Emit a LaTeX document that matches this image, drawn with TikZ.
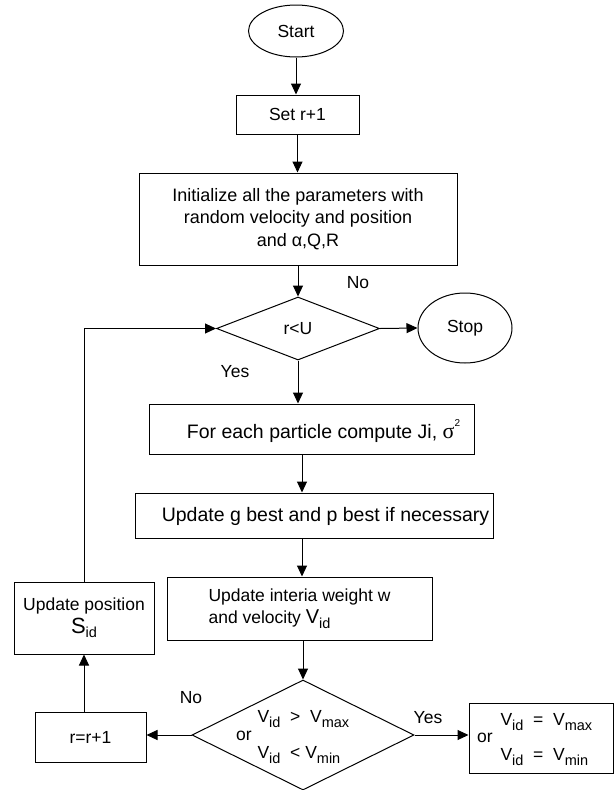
\documentclass[tikz,border=0pt]{standalone}
\usepackage{fontspec}
\setmainfont{Liberation Sans}
\newfontfamily\symfont{Liberation Serif}
\usetikzlibrary{shapes.geometric,arrows.meta}
\newcommand\lsub[1]{\raisebox{-0.45ex}{\fontsize{14.5}{14.5}\selectfont #1}}
\newcommand\bigV{{\fontsize{20}{20}\selectfont V}}
\newcommand\bigS{{\fontsize{22}{22}\selectfont S}}
\begin{document}
\begin{tikzpicture}[x=1pt,y=-1pt,
  font=\fontsize{17.5}{22.5}\selectfont,
  line width=1pt,
  box/.style={draw, rectangle, inner sep=0pt, align=center},
  term/.style={draw, ellipse, inner sep=0pt},
  decision/.style={draw, diamond, inner sep=0pt},
  arr/.style={-{Triangle[length=11pt,width=10pt]}},
  lbl/.style={inner sep=0pt}
]
\useasboundingbox (0,0) rectangle (615,790);

% nodes
\node[term, minimum width=95pt, minimum height=52pt] (start) at (296,31) {Start};
\node[box, minimum width=123pt, minimum height=39pt] (set) at (297.5,114.5) {Set r+1};
\node[box, minimum width=318pt, minimum height=92pt, font=\fontsize{18}{22.5}\selectfont] (init) at (298,219) {Initialize all the parameters with\\random velocity and position\\and α,Q,R};
\node[decision, minimum width=163pt, minimum height=63pt] (d1) at (298,328.5) {r<U};
\node[term, minimum width=94pt, minimum height=70pt] (stop) at (465,328) {Stop};
\node[box, minimum width=325pt, minimum height=50pt] (fe) at (311.5,429) {};
\node[lbl, font=\fontsize{19.5}{22}\selectfont] (fetxt) at (323.5,431) {For each particle compute Ji, {\symfont\fontsize{22}{22}\selectfont σ}\raisebox{1.1ex}{\fontsize{10}{10}\selectfont 2}};
\node[box, minimum width=358pt, minimum height=45pt] (gb) at (314,515.5) {};
\node[lbl, font=\fontsize{19.5}{22}\selectfont] (gbtxt) at (325.5,516) {Update g best and p best if necessary};
\node[box, minimum width=265pt, minimum height=63pt, align=left] (iw) at (299.5,608.5) {Update interia weight w\\and velocity \bigV\lsub{id}};
\node[decision, minimum width=222pt, minimum height=110pt] (d2) at (303,735) {};
\node[lbl] (d2or) at (244,736) {or};
\node[lbl, anchor=west] (d2a) at (257,719) {V\lsub{id}\ \ >\ \ V\lsub{max}};
\node[lbl, anchor=west] (d2b) at (257,755) {V\lsub{id}\ \ <\ V\lsub{min}};
\node[box, minimum width=144pt, minimum height=70pt] (res) at (541,738) {};
\node[lbl] (resor) at (485,738) {or};
\node[lbl, anchor=west] (resa) at (500,722) {V\lsub{id}\ \ =\ \ V\lsub{max}};
\node[lbl, anchor=west] (resb) at (500,757) {V\lsub{id}\ \ =\ \ V\lsub{min}};
\node[box, minimum width=111pt, minimum height=50pt] (rr) at (90.5,737) {r=r+1};
\node[box, minimum width=140pt, minimum height=72pt] (pos) at (84,618) {Update position\\\bigS\lsub{id}};

% labels
\node[lbl] (no1) at (358,283) {No};
\node[lbl] (yes1) at (235,372) {Yes};
\node[lbl] (no2) at (191,698) {No};
\node[lbl] (yes2) at (428,718) {Yes};

% connectors
\draw[arr] (start.south) -- (start.south |- set.north);
\draw[arr] (set.south) -- (set.south |- init.north);
\draw[arr] (init.south) -- (init.south |- d1.north);
\draw[arr] (d1.east) -- (stop.west);
\draw[arr] (d1.south) -- (d1.south |- fe.north);
\draw[arr] ([xshift=-9.5pt]fe.south) -- ([xshift=-9.5pt]fe.south |- gb.north);
\draw[arr] ([xshift=-12pt]gb.south) -- ([xshift=-12pt]gb.south |- iw.north);
\draw[arr] ([xshift=3.5pt]iw.south) -- (d2.north);
\draw[arr] (d2.east) -- (d2.east -| res.west);
\draw[arr] (d2.west) -- (d2.west -| rr.east);
\draw[arr] (rr.north -| pos.south) -- (pos.south);
\draw[arr] (pos.north) |- (d1.west);
\end{tikzpicture}
\end{document}
